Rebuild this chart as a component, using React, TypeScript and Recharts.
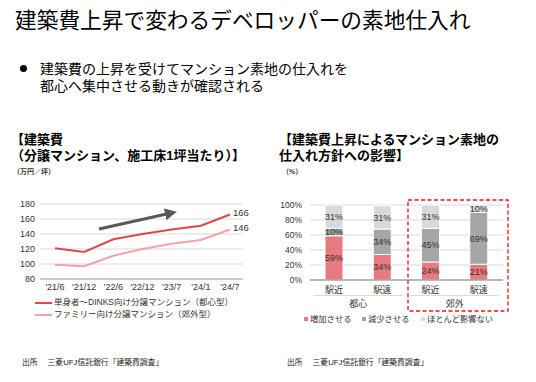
import React from "react";
import {
  LineChart, Line, XAxis, YAxis, CartesianGrid, LabelList,
  BarChart, Bar,
} from "recharts";

const FONT = "'Liberation Sans', 'Noto Sans CJK JP', sans-serif";

// ---- Line chart data ----
const periods = ["'21/6", "'21/12", "'22/6", "'22/12", "'23/7", "'24/1", "'24/7"];
const urbanCost = [121, 116, 133, 140, 146, 151, 166];
const suburbanCost = [99, 97, 111, 120, 127, 132, 146];
const costTicks = [80, 100, 120, 140, 160, 180];
const urbanLabel = "単身者～DINKS向け分譲マンション（都心型）";
const suburbanLabel = "ファミリー向け分譲マンション（郊外型）";

// ---- Bar chart data ----
const barCategories = ["駅近", "駅遠", "駅近", "駅遠"];
const barGroups = ["都心", "都心", "郊外", "郊外"];
const increase = [59, 34, 24, 21];
const decrease = [10, 34, 45, 69];
const noEffect = [31, 31, 31, 10];
const pctTicks = [0, 20, 40, 60, 80, 100];
const barSeriesNames = ["増加させる", "減少させる", "ほとんど影響ない"];

const lineData = periods.map((p, i) => ({ period: p, urban: urbanCost[i], suburban: suburbanCost[i] }));
const barData = barCategories.map((c, i) => ({
  cat: c + "_" + i,
  label: c,
  group: barGroups[i],
  inc: increase[i],
  dec: decrease[i],
  none: noEffect[i],
}));

const RED = "#E0464E";
const PINK = "#F3A3A8";
const BAR_RED = "#E77A7E";
const BAR_GRAY = "#A6A6A6";
const BAR_LIGHT = "#D9D9D9";

const BAR_W = 266;
const BAR_MARGIN = { top: 10, right: 33, bottom: 0, left: 8 };
const BAR_YW = 32;
const BAND = (BAR_W - BAR_MARGIN.left - BAR_MARGIN.right - BAR_YW) / barCategories.length;

const lastIdx = periods.length - 1;

const EndLabel = (props: any) => {
  const { x, y, value, index } = props;
  if (index !== lastIdx) return null;
  return (
    <text x={x + 3} y={y + 1} fontSize={9.5} fill="#333" fontFamily={FONT} textAnchor="start">
      {value}
    </text>
  );
};

const BarTick = (props: any) => {
  const { x, y, payload, index } = props;
  const i = index ?? 0;
  const row = barData[i];
  return (
    <g>
      <text x={x} y={y + 12.5} fontSize={9} fill="#333" fontFamily={FONT} textAnchor="middle">
        {row ? row.label : payload.value}
      </text>
      {i % 2 === 1 && (
        <g>
          <line x1={x - BAND * 1.5 + 4} x2={x + BAND / 2 - 4} y1={y + 15.5} y2={y + 15.5} stroke="#D9D9D9" strokeWidth={1} />
          <text x={x - BAND / 2} y={y + 26.5} fontSize={9} fill="#333" fontFamily={FONT} textAnchor="middle">
            {row ? row.group : ""}
          </text>
        </g>
      )}
    </g>
  );
};

const abs = (left: number, top: number, extra: any = {}) => ({
  position: "absolute" as const,
  left,
  top,
  whiteSpace: "nowrap" as const,
  fontFamily: FONT,
  ...extra,
});

const barLabel = { fontSize: 9, fill: "#333", fontFamily: FONT };

export default function App() {
  return (
    <div style={{ position: "absolute", left: 0, top: 0, width: 536, height: 382, background: "#fff", overflow: "hidden", fontFamily: FONT, color: "#000" }}>
      <div style={abs(15, 9, { fontSize: 21.7, lineHeight: "24px" })}>建築費上昇で変わるデベロッパーの素地仕入れ</div>

      <div style={{ position: "absolute", left: 19.5, top: 64.5, width: 7, height: 7, borderRadius: "50%", background: "#000" }} />
      <div style={abs(40, 60.5, { fontSize: 14, lineHeight: "17px" })}>
        建築費の上昇を受けてマンション素地の仕入れを<br />都心へ集中させる動きが確認される
      </div>

      {/* Left chart titles */}
      <div style={abs(11, 132, { fontSize: 13, lineHeight: "16px", fontWeight: 700 })}>
        【建築費<br />（分譲マンション、施工床1坪当たり）】
      </div>
      <div style={abs(13, 167, { fontSize: 7, lineHeight: "9px", fontWeight: 700, color: "#333" })}>（万円／坪）</div>

      {/* Right chart titles */}
      <div style={abs(279, 132, { fontSize: 13, lineHeight: "16px", fontWeight: 700 })}>
        【建築費上昇によるマンション素地の<br />仕入れ方針への影響】
      </div>
      <div style={abs(282, 167, { fontSize: 7, lineHeight: "9px", fontWeight: 700, color: "#333" })}>（%）</div>

      {/* Line chart */}
      <div style={{ position: "absolute", left: 0, top: 194 }}>
        <LineChart width={265} height={105} data={lineData} margin={{ top: 10, right: 22, bottom: 0, left: 10 }}>
          <CartesianGrid vertical={false} stroke="#D9D9D9" />
          <XAxis
            dataKey="period"
            padding={{ left: 15, right: 13 }}
            axisLine={{ stroke: "#A6A6A6" }}
            tickLine={false}
            tickSize={3}
            tickMargin={2}
            height={20}
            interval={0}
            tick={{ fontSize: 9, fill: "#333", fontFamily: FONT }}
          />
          <YAxis
            domain={[80, 180]}
            ticks={costTicks}
            interval={0}
            width={30}
            axisLine={false}
            tickLine={false}
            tickSize={3}
            tickMargin={2}
            tick={{ fontSize: 9, fill: "#333", fontFamily: FONT }}
          />
          <Line dataKey="urban" type="linear" stroke={RED} strokeWidth={2} dot={false} isAnimationActive={false}>
            <LabelList dataKey="urban" content={EndLabel} />
          </Line>
          <Line dataKey="suburban" type="linear" stroke={PINK} strokeWidth={2} dot={false} isAnimationActive={false}>
            <LabelList dataKey="suburban" content={EndLabel} />
          </Line>
        </LineChart>
      </div>

      {/* Line legend */}
      <div style={{ position: "absolute", left: 35, top: 302, width: 17, height: 2, background: RED }} />
      <div style={abs(54, 297, { fontSize: 8.5, lineHeight: "11px", color: "#333" })}>{urbanLabel}</div>
      <div style={{ position: "absolute", left: 35, top: 313.5, width: 17, height: 2, background: PINK }} />
      <div style={abs(54, 308.5, { fontSize: 8.5, lineHeight: "11px", color: "#333" })}>{suburbanLabel}</div>

      {/* Bar chart */}
      <div style={{ position: "absolute", left: 270, top: 195 }}>
        <BarChart width={BAR_W} height={115} data={barData} margin={BAR_MARGIN} barSize={18}>
          <CartesianGrid vertical={false} stroke="#D9D9D9" />
          <XAxis
            dataKey="cat"
            axisLine={{ stroke: "#808080" }}
            tickLine={false}
            tickSize={0}
            tickMargin={0}
            height={30}
            interval={0}
            tick={<BarTick />}
          />
          <YAxis
            domain={[0, 100]}
            ticks={pctTicks}
            interval={0}
            width={BAR_YW}
            axisLine={false}
            tickLine={false}
            tickFormatter={(v: number) => v + "%"}
            tick={{ fontSize: 8.5, fill: "#333", fontFamily: FONT }}
          />
          <Bar dataKey="inc" name={barSeriesNames[0]} stackId="a" fill={BAR_RED} stroke="#fff" strokeWidth={1} isAnimationActive={false}>
            <LabelList dataKey="inc" position="center" formatter={(v: any) => v + "%"} {...barLabel} />
          </Bar>
          <Bar dataKey="dec" name={barSeriesNames[1]} stackId="a" fill={BAR_GRAY} stroke="#fff" strokeWidth={1} isAnimationActive={false}>
            <LabelList dataKey="dec" position="center" formatter={(v: any) => v + "%"} {...barLabel} />
          </Bar>
          <Bar dataKey="none" name={barSeriesNames[2]} stackId="a" fill={BAR_LIGHT} stroke="#fff" strokeWidth={1} isAnimationActive={false}>
            <LabelList dataKey="none" position="center" formatter={(v: any) => v + "%"} {...barLabel} />
          </Bar>
        </BarChart>
      </div>

      {/* Bar legend */}
      {[
        { x: 304, c: BAR_RED },
        { x: 362, c: BAR_GRAY },
        { x: 421, c: BAR_LIGHT },
      ].map((it, i) => (
        <React.Fragment key={i}>
          <div style={{ position: "absolute", left: it.x, top: 317, width: 4, height: 4, background: it.c }} />
          <div style={abs(it.x + 6, 313.5, { fontSize: 8.3, lineHeight: "11px", color: "#333" })}>{barSeriesNames[i]}</div>
        </React.Fragment>
      ))}

      {/* Annotations */}
      <svg width={536} height={382} style={{ position: "absolute", left: 0, top: 0, pointerEvents: "none" }}>
        <defs>
          <marker id="ah" markerWidth="4" markerHeight="4" refX="2" refY="2" orient="auto" markerUnits="strokeWidth">
            <path d="M0,0 L4,2 L0,4 z" fill="#595959" />
          </marker>
        </defs>
        <line x1={99} y1={229} x2={171} y2={213} stroke="#595959" strokeWidth={3} markerEnd="url(#ah)" />
        <rect x={408} y={200} width={100} height={111} fill="none" stroke="#E8131B" strokeWidth={1.3} strokeDasharray="4 2.5" />
      </svg>

      {/* Sources */}
      <div style={abs(22, 358, { fontSize: 7.8, lineHeight: "10px", color: "#222" })}>出所　 三菱UFJ信託銀行「建築費調査」</div>
      <div style={abs(287, 358, { fontSize: 7.8, lineHeight: "10px", color: "#222" })}>出所　 三菱UFJ信託銀行「建築費調査」</div>
    </div>
  );
}
